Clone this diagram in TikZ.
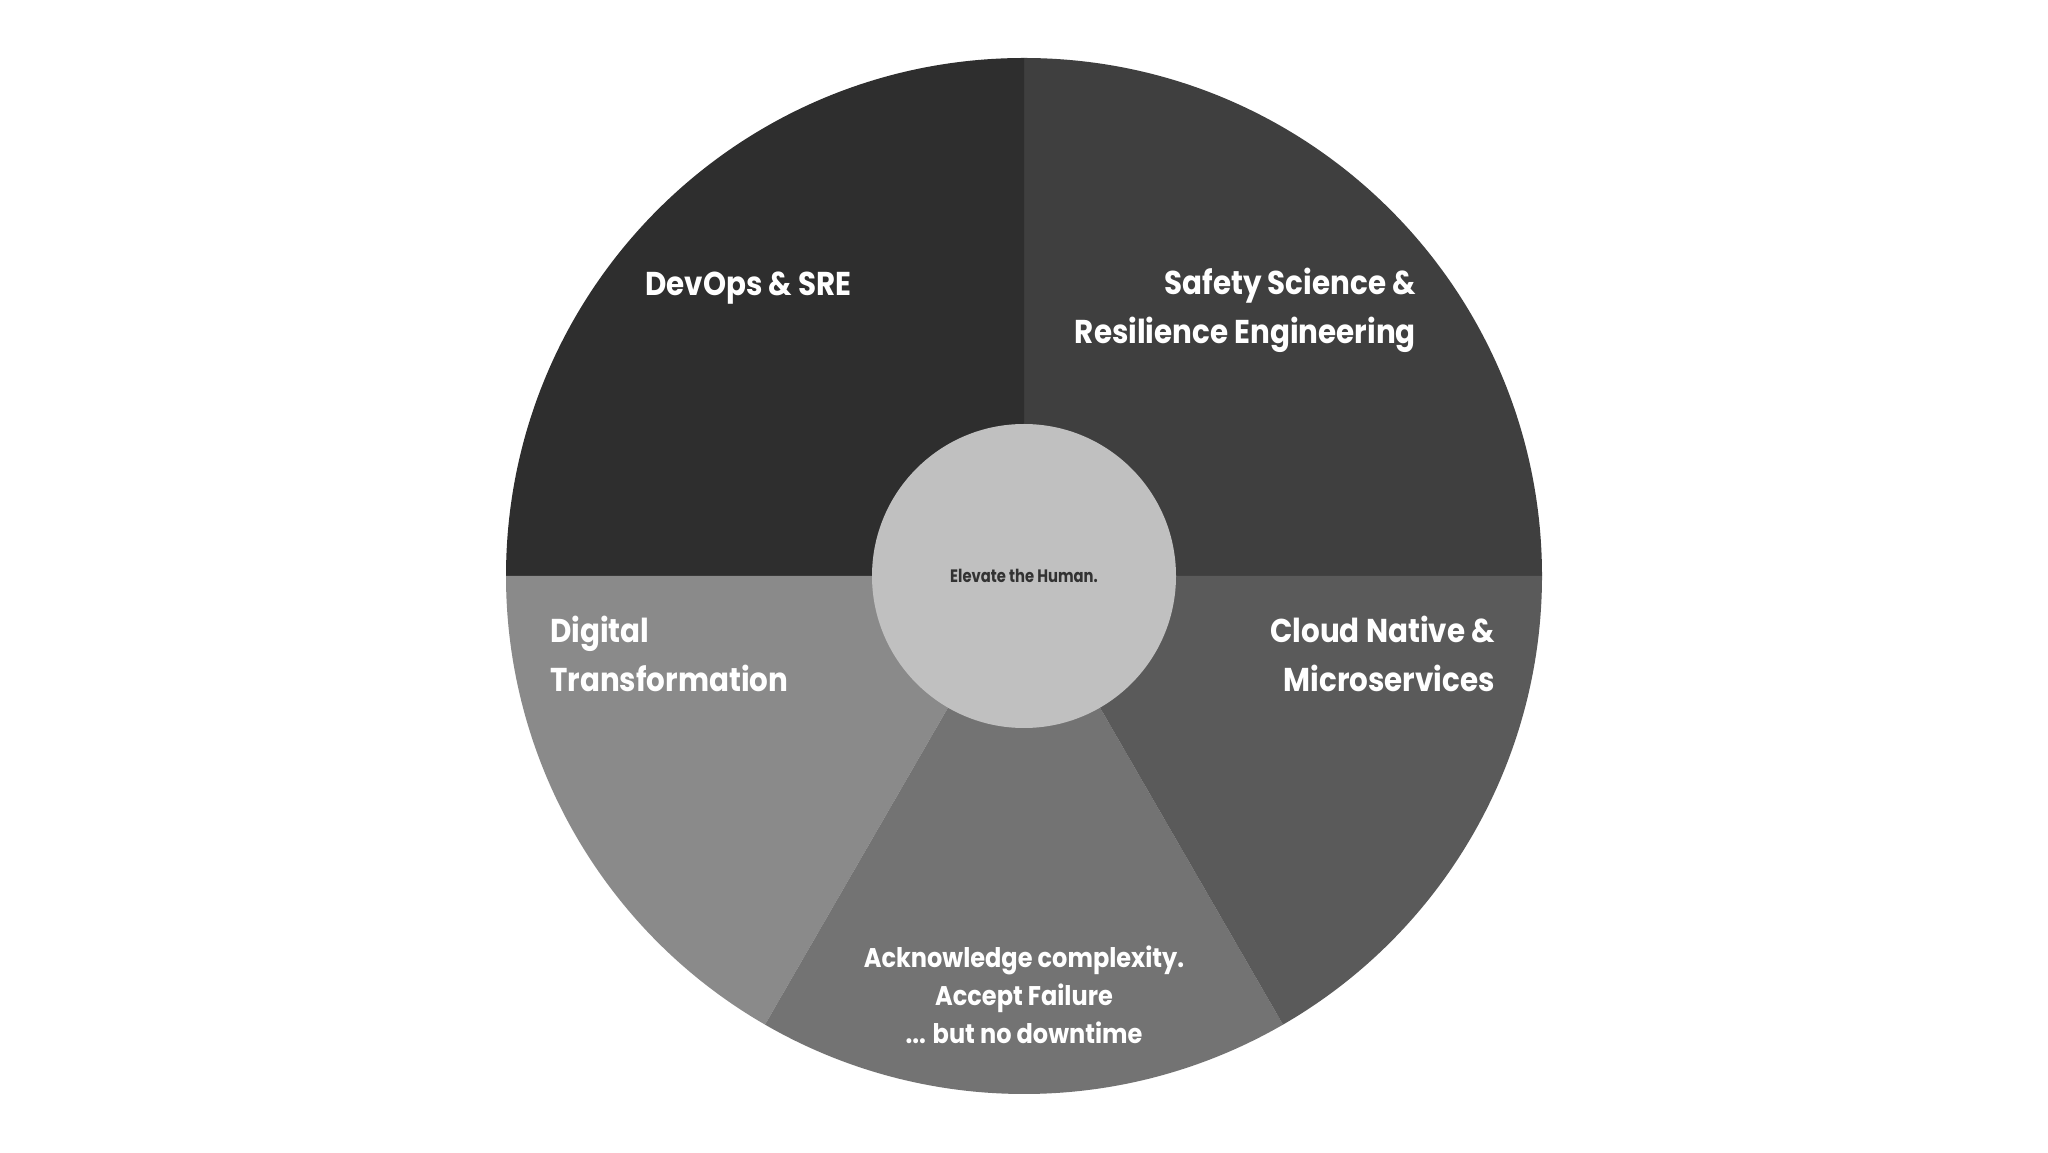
\documentclass[tikz,border=0pt]{standalone}
\usepackage{fontspec}
\setmainfont{Poppins}[UprightFont=* Bold, FakeStretch=0.89]
\newfontfamily\hubfont{Poppins}[UprightFont=* Bold, FakeStretch=0.82]
\definecolor{secTL}{HTML}{2E2E2E}
\definecolor{secTR}{HTML}{3F3F3F}
\definecolor{secR}{HTML}{5A5A5A}
\definecolor{secB}{HTML}{737373}
\definecolor{secL}{HTML}{8A8A8A}
\definecolor{hubfill}{HTML}{C0C0C0}
\definecolor{hubtext}{HTML}{333333}
\begin{document}
\begin{tikzpicture}[x=1pt,y=1pt,
  title/.style={text=white, inner sep=0pt, font=\fontsize{33}{40}\selectfont},
  small/.style={text=white, inner sep=0pt, font=\fontsize{27}{36}\selectfont}]
\useasboundingbox (0,0) rectangle (2048,1152);
\fill[white] (0,0) rectangle (2048,1152);
\coordinate (C) at (1024,576);
\def\R{518}
\fill[secTR] (C) -- ++(0:\R) arc[start angle=0,end angle=90,radius=\R] -- cycle;
\fill[secTL] (C) -- ++(90:\R) arc[start angle=90,end angle=180,radius=\R] -- cycle;
\fill[secL] (C) -- ++(180:\R) arc[start angle=180,end angle=240,radius=\R] -- cycle;
\fill[secB] (C) -- ++(240:\R) arc[start angle=240,end angle=300,radius=\R] -- cycle;
\fill[secR] (C) -- ++(300:\R) arc[start angle=300,end angle=360,radius=\R] -- cycle;
\node[circle, fill=hubfill, minimum size=304pt, inner sep=0pt, text=hubtext,
  font=\hubfont\fontsize{18}{22}\selectfont] (hub) at (C) {Elevate the Human.};
\node[title, anchor=base west] (devops) at (645,856) {DevOps \& SRE};
\node[title, anchor=base east] (safety1) at (1416,857) {Safety Science \&};
\node[title, anchor=base east] (safety2) at (1416,808) {Resilience Engineering};
\node[title, anchor=base west] (digital1) at (550,509) {Digital};
\node[title, anchor=base west] (digital2) at (550,460) {Transformation};
\node[title, anchor=base east] (cloud1) at (1495,509) {Cloud Native \&};
\node[title, anchor=base east] (cloud2) at (1495,460) {Microservices};
\node[small, anchor=base] (ack1) at (1024,185) {Acknowledge complexity.};
\node[small, anchor=base] (ack2) at (1024,147) {Accept Failure};
\node[small, anchor=base] (ack3) at (1024,109) {... but no downtime};
\end{tikzpicture}
\end{document}
